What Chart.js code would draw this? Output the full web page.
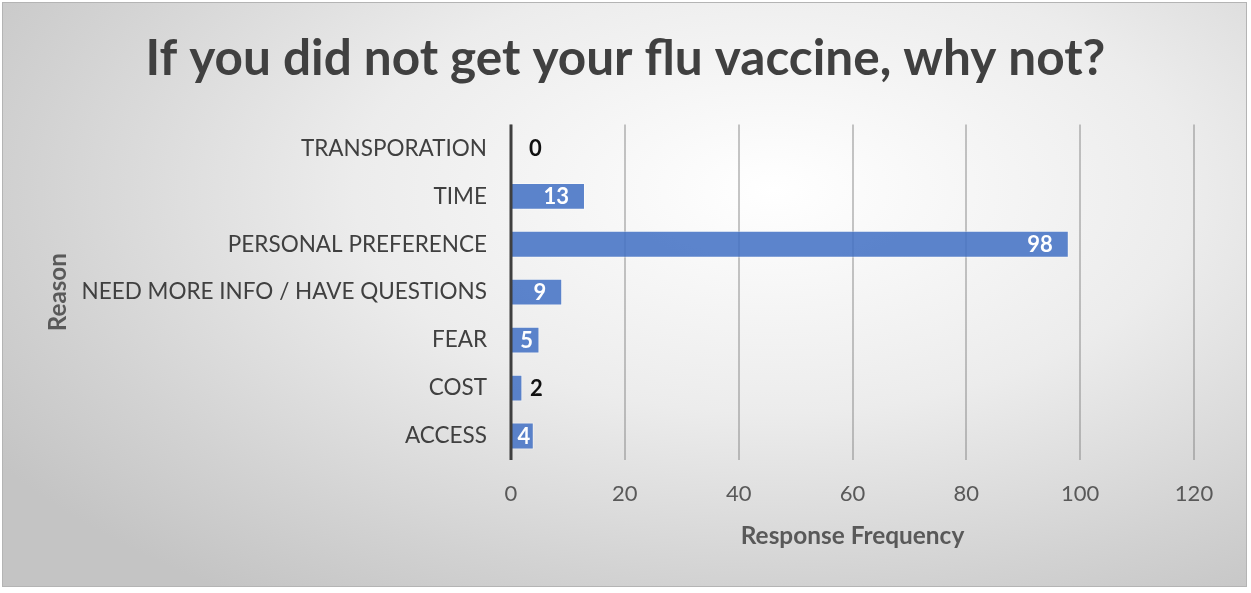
<!DOCTYPE html>
<html>
<head>
<meta charset="utf-8">
<script src="https://cdn.jsdelivr.net/npm/chart.js@4"></script>
<style>
    html, body { margin: 0; padding: 0; background: #ffffff; }
    #frame {
        position: absolute;
        left: 2px; top: 2px;
        width: 1243px; height: 583px;
        border: 1px solid #b4b4b4;
        background: radial-gradient(ellipse 75% 85% at 62% 32%, #ffffff 0%, #ececec 45%, #d2d2d2 80%, #c4c4c4 100%);
    }
    #wrap { position: absolute; left: 0; top: 0; width: 1251px; height: 593px; }
</style>
</head>
<body>
<div id="frame"></div>
<div id="wrap"><canvas id="reasonChart" width="1251" height="593"></canvas></div>
<script>
const reasons = [
    'TRANSPORATION',
    'TIME',
    'PERSONAL PREFERENCE',
    'NEED MORE INFO / HAVE QUESTIONS',
    'FEAR',
    'COST',
    'ACCESS'
];
const responseCounts = [0, 13, 98, 9, 5, 2, 4];
const xTicks = [0, 20, 40, 60, 80, 100, 120];

const FONT = 'Lato';

// Excel-style data labels: white inside the bar end, black outside when the bar is too short
const barLabels = {
    id: 'barLabels',
    afterDatasetsDraw(chart) {
        const ctx = chart.ctx;
        const xScale = chart.scales.x;
        const area = chart.chartArea;

        // axis line at zero, drawn over the bars
        const x0 = xScale.getPixelForValue(0);
        ctx.save();
        ctx.strokeStyle = '#3f3f3f';
        ctx.lineWidth = 3;
        ctx.beginPath();
        ctx.moveTo(x0, area.top);
        ctx.lineTo(x0, area.bottom);
        ctx.stroke();

        ctx.font = `bold 22px ${FONT}`;
        ctx.textBaseline = 'middle';
        const meta = chart.getDatasetMeta(0);
        meta.data.forEach((bar, i) => {
            const val = chart.data.datasets[0].data[i];
            const text = String(val);
            const w = ctx.measureText(text).width;
            const barW = bar.x - bar.base;
            const y = bar.y + 1;
            if (barW >= w + 8) {
                ctx.fillStyle = '#ffffff';
                if (barW < w + 32) {
                    ctx.textAlign = 'center';
                    ctx.fillText(text, bar.base + barW / 2 + 1, y);
                } else {
                    ctx.textAlign = 'right';
                    ctx.fillText(text, bar.x - 16, y);
                }
            } else {
                ctx.fillStyle = '#111111';
                ctx.textAlign = 'left';
                ctx.fillText(text, Math.max(bar.x + 7, bar.base + 18), y);
            }
        });
        ctx.restore();
    }
};

const ctx = document.getElementById('reasonChart').getContext('2d');
new Chart(ctx, {
    type: 'bar',
    data: {
        labels: reasons,
        datasets: [{
            label: 'Response Frequency',
            data: responseCounts,
            backgroundColor: 'rgba(68, 114, 196, 0.87)',
            borderColor: 'rgba(255, 255, 255, 0.45)',
            borderWidth: 1,
            barPercentage: 0.56,
            categoryPercentage: 1.0
        }]
    },
    options: {
        indexAxis: 'y',
        responsive: false,
        animation: false,
        layout: { padding: { left: 0, right: 0, top: 0, bottom: 20 } },
        plugins: {
            legend: { display: false },
            tooltip: { enabled: false },
            title: {
                display: true,
                text: 'If you did not get your flu vaccine, why not?',
                color: '#404040',
                font: { family: FONT, size: 49.5, weight: 'bold' },
                padding: { top: 29, bottom: 36 }
            }
        },
        scales: {
            x: {
                min: 0,
                max: 120,
                afterBuildTicks: (scale) => { scale.ticks = xTicks.map(v => ({ value: v })); },
                afterFit: (scale) => { scale.height = 113; },
                grid: {
                    color: 'rgba(120, 120, 120, 0.42)',
                    lineWidth: 2,
                    drawTicks: false
                },
                border: { display: false },
                ticks: {
                    color: '#595959',
                    padding: 21,
                    font: { family: FONT, size: 22 }
                },
                title: {
                    display: true,
                    text: 'Response Frequency',
                    color: '#595959',
                    font: { family: FONT, size: 24.4, weight: 'bold' },
                    padding: { top: 0, bottom: 22 }
                }
            },
            y: {
                afterFit: (scale) => { scale.width = 511; },
                grid: { display: false, drawTicks: false },
                border: { display: false },
                ticks: {
                    color: '#404040',
                    padding: 24,
                    font: { family: FONT, size: 22.5 }
                },
                title: {
                    display: true,
                    text: 'Reason',
                    color: '#595959',
                    font: { family: FONT, size: 24.2, weight: 'bold' },
                    padding: { top: 44, bottom: 0 }
                }
            },
            // empty right-hand margin so the title stays centred on the whole image
            yMargin: {
                type: 'linear',
                position: 'right',
                afterFit: (scale) => { scale.width = 57; },
                grid: { display: false, drawTicks: false },
                border: { display: false },
                ticks: { display: false }
            }
        }
    },
    plugins: [barLabels]
});
</script>
</body>
</html>
